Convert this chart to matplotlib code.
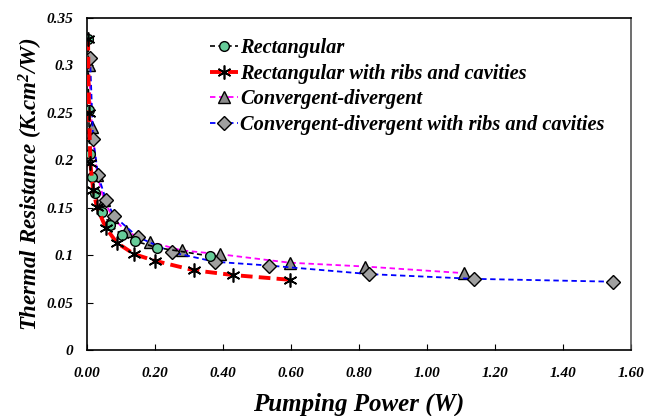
import numpy as np
import matplotlib
matplotlib.use("Agg")
import matplotlib.pyplot as plt

plt.rcParams['font.family'] = ['Liberation Serif', 'DejaVu Serif']
plt.rcParams['font.weight'] = 'bold'
plt.rcParams['font.style'] = 'italic'
plt.rcParams['mathtext.fontset'] = 'custom'
plt.rcParams['mathtext.it'] = 'Liberation Serif:italic:bold'
plt.rcParams['mathtext.rm'] = 'Liberation Serif:italic:bold'

# Rectangular
x_rect = [0.003, 0.005, 0.008, 0.015, 0.024, 0.044, 0.068, 0.103, 0.14, 0.205, 0.362]
y_rect = [0.328, 0.253, 0.207, 0.182, 0.165, 0.146, 0.132, 0.121, 0.115, 0.108, 0.099]

# Rectangular with ribs and cavities
x_rrc = [0.003, 0.006, 0.01, 0.018, 0.029, 0.055, 0.088, 0.139, 0.2, 0.315, 0.43, 0.597]
y_rrc = [0.328, 0.25, 0.197, 0.169, 0.151, 0.129, 0.113, 0.101, 0.094, 0.084, 0.079, 0.074]

# Convergent-divergent
x_cd = [0.005, 0.015, 0.03, 0.05, 0.075, 0.115, 0.185, 0.279, 0.39, 0.597, 0.818, 1.109]
y_cd = [0.30, 0.235, 0.185, 0.158, 0.14, 0.125, 0.114, 0.105, 0.101, 0.092, 0.088, 0.081]

# Convergent-divergent with ribs and cavities
x_cdr = [0.009, 0.018, 0.033, 0.056, 0.08, 0.15, 0.25, 0.376, 0.536, 0.83, 1.138, 1.547]
y_cdr = [0.308, 0.222, 0.184, 0.158, 0.141, 0.119, 0.103, 0.093, 0.089, 0.080, 0.075, 0.072]

fig = plt.figure(figsize=(6.61, 4.16), dpi=100)
ax = fig.add_axes([0.1316, 0.1587, 0.823, 0.798])

ax.plot(x_cd, y_cd, '--', color='magenta', lw=1.3, dashes=(3, 2), marker='^',
        ms=8, mfc='#8c8c8c', mec='black', mew=1, label='Convergent-divergent', zorder=2)
ax.plot(x_cdr, y_cdr, '--', color='blue', lw=1.3, dashes=(3, 2), marker='D',
        ms=7, mfc='#a0a0a0', mec='black', mew=1,
        label='Convergent-divergent with ribs and cavities', zorder=3)
ax.plot(x_rect, y_rect, '--', color='black', lw=1.2, dashes=(3, 2), marker='o',
        ms=7, mfc='#66cc99', mec='black', mew=1, label='Rectangular', zorder=4)
ax.plot(x_rrc, y_rrc, '--', color='red', lw=2.8, dashes=(3, 1.6), marker=(6, 2, 0),
        ms=10, mec='black', mew=1.2, label='Rectangular with ribs and cavities', zorder=5)

ax.set_xlim(0, 1.6)
ax.set_ylim(0, 0.35)
ax.set_xticks(np.arange(0, 1.61, 0.2))
ax.set_xticklabels(['%.2f' % v for v in np.arange(0, 1.61, 0.2)])
ax.set_yticks([0, 0.05, 0.1, 0.15, 0.2, 0.25, 0.3, 0.35])
ax.set_yticklabels(['0', '0.05', '0.1', '0.15', '0.2', '0.25', '0.3', '0.35'])
ax.tick_params(direction='in', length=4, labelsize=11)
ax.tick_params(axis='x', pad=12)
ax.tick_params(axis='y', pad=10)
for s in ax.spines.values():
    s.set_linewidth(1.2)
ax.spines['right'].set_color('#555555')

ax.set_xlabel('Pumping Power (W)', fontsize=18, fontweight='bold', labelpad=9)
ax.set_ylabel('Thermal Resistance (K.cm$^2$/W)', fontsize=16.5, fontweight='bold', labelpad=1)

h, l = ax.get_legend_handles_labels()
order = [2, 3, 0, 1]
ax.legend([h[i] for i in order], [l[i] for i in order], loc='upper left',
          bbox_to_anchor=(0.192, 0.995), frameon=False, handlelength=1.4,
          handletextpad=0.1, labelspacing=0.28,
          prop={'family': 'Liberation Serif', 'weight': 'bold', 'style': 'italic', 'size': 14.7})

plt.savefig('out.png', dpi=100)
